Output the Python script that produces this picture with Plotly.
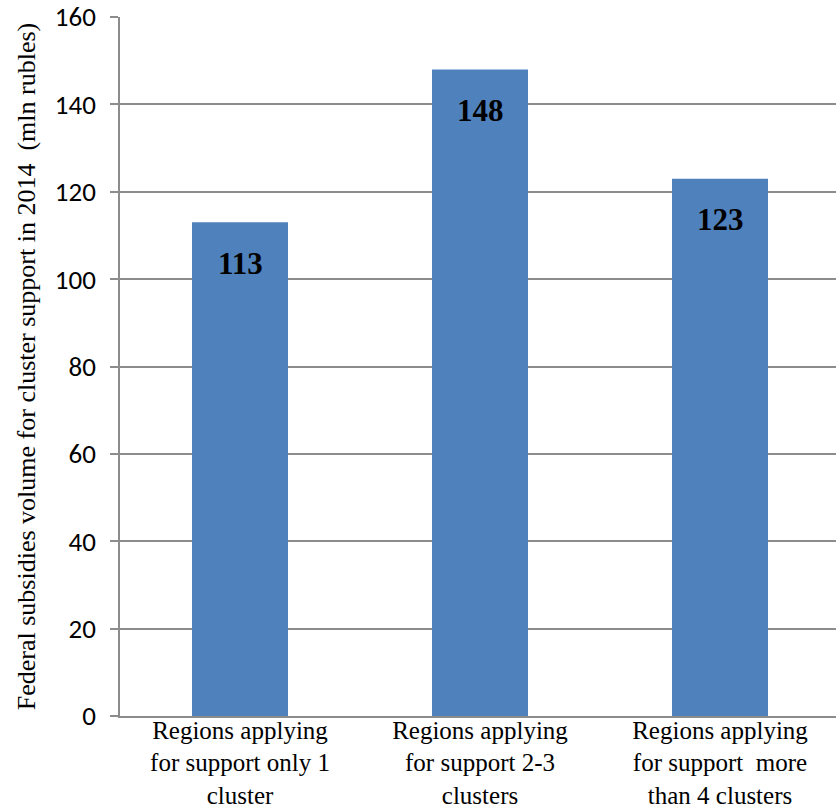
import plotly.graph_objects as go

categories = [
    "Regions applying<br>for support only 1<br>cluster",
    "Regions applying<br>for support 2-3<br>clusters",
    "Regions applying<br>for support\u00a0 more<br>than 4 clusters",
]
values = [113, 148, 123]
y_ticks = [0, 20, 40, 60, 80, 100, 120, 140, 160]

bar_color = "#4F81BD"
grid_color = "#8C8C8C"
serif = "Liberation Serif, Times New Roman, serif"
sans = "Carlito, Lato, sans-serif"

fig = go.Figure()
fig.add_trace(go.Bar(
    x=[0, 1, 2],
    y=values,
    width=0.4,
    marker=dict(color=bar_color, line=dict(width=0)),
    hoverinfo="skip",
))

# Bold value labels inside each bar, just below its top
for i, v in enumerate(values):
    fig.add_annotation(
        x=i, y=v, text=f"<b>{v}</b>", showarrow=False,
        yanchor="middle", yshift=-41,
        font=dict(family=serif, size=31, color="black"),
    )

fig.update_layout(
    width=836, height=808,
    margin=dict(l=120, r=0, t=17, b=92),
    paper_bgcolor="white", plot_bgcolor="white",
    showlegend=False,
    bargap=0.6,
)
fig.update_xaxes(
    range=[-0.5, 2.4833],
    tickmode="array", tickvals=[0, 1, 2], ticktext=categories,
    tickfont=dict(family=serif, size=25, color="black"),
    ticklabelstandoff=-9,
    showline=True, linecolor=grid_color, linewidth=1.5,
    showgrid=False, zeroline=False, ticks="",
    automargin=False,
)
fig.update_yaxes(
    range=[0, 160],
    tickmode="array", tickvals=y_ticks,
    tickfont=dict(family=sans, size=27, color="black"),
    ticks="outside", ticklen=8, tickcolor=grid_color, tickwidth=1.5,
    ticklabelstandoff=9,
    showline=True, linecolor=grid_color, linewidth=1.5,
    showgrid=True, gridcolor=grid_color, gridwidth=1.5,
    zeroline=False,
    automargin=False,
    title=dict(
        text="Federal subsidies volume for cluster support in 2014\u00a0 (mln rubles)",
        font=dict(family=serif, size=26, color="black"),
        standoff=12,
    ),
)

fig.write_html("out.html")
